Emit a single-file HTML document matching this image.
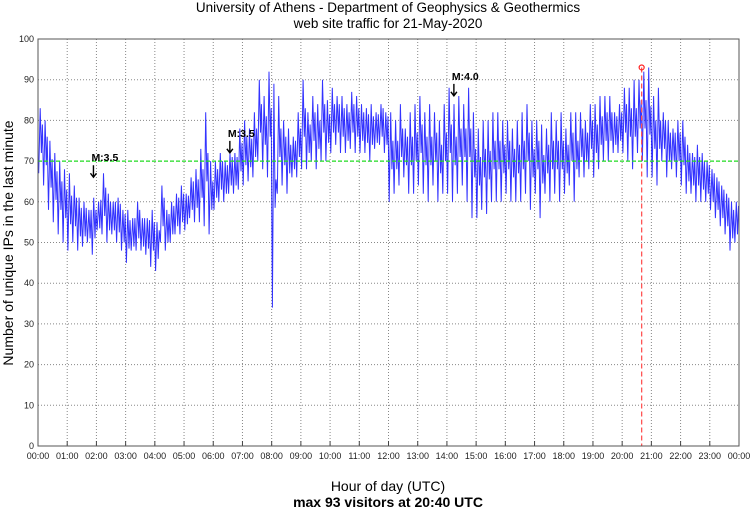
<!DOCTYPE html>
<html><head><meta charset="utf-8"><style>
body{margin:0;background:#fff;}
svg{display:block;font-family:"Liberation Sans",sans-serif;}
</style></head><body>
<svg id="chart" width="750" height="511" viewBox="0 0 750 511">
<text x="388" y="12" font-size="13.5" text-anchor="middle">University of Athens - Department of Geophysics &amp; Geothermics</text>
<text x="388" y="28" font-size="13.5" text-anchor="middle">web site traffic for 21-May-2020</text>
<text transform="translate(13,243) rotate(-90)" font-size="14" text-anchor="middle">Number of unique IPs in the last minute</text>
<text x="388" y="491" font-size="14" text-anchor="middle">Hour of day (UTC)</text>
<text x="388" y="507" font-size="14" font-weight="bold" text-anchor="middle">max 93 visitors at 20:40 UTC</text>
<g id="grid"></g><g id="series"></g><g id="overlay"></g><g id="axes"></g>
</svg>
<script>
const hiVals=[83,80,75,72,70,68, 67,64,61,60,58,61, 60,67,62,60,61,58, 58,56,60,56,56,58, 55,64,58,60,62,64, 62,66,68,73,82,70, 70,72,70,72,72,78, 80,78,82,90,86,92, 89,86,80,78,76,82, 90,82,86,84,90,85, 88,86,86,84,87,86, 84,83,84,82,84,82, 82,80,84,78,82,84, 86,82,84,82,80,84, 88,84,86,84,88,82, 78,80,80,82,82,80, 80,78,80,82,84,80, 80,79,78,82,80,82, 78,82,82,82,80,84, 84,86,86,86,82,84, 88,88,90,90,92,93, 86,88,82,80,78,80, 80,74,72,74,72,70, 68,66,64,62,60,60];
const loVals=[67,64,58,55,52,50, 48,50,48,49,50,47, 53,52,50,52,50,48, 45,48,48,48,47,44, 43,50,48,50,52,52, 53,56,55,55,54,52, 58,60,60,62,62,63, 64,65,66,70,68,66, 34,62,64,62,66,66, 68,68,70,68,70,70, 72,74,72,72,73,72, 72,72,70,73,74,72, 60,62,64,66,62,62, 64,62,60,64,60,62, 62,60,62,64,60,56, 56,58,57,60,60,60, 62,60,60,60,62,58, 62,56,62,60,62,60, 62,64,60,66,66,68, 66,68,70,70,72,72, 72,70,68,72,70,66, 66,64,70,66,68,66, 64,62,62,60,60,60, 58,56,54,52,48,50];
const yTicks=[0,10,20,30,40,50,60,70,80,90,100];
const xTickLabels=["00:00","01:00","02:00","03:00","04:00","05:00","06:00","07:00","08:00","09:00","10:00","11:00","12:00","13:00","14:00","15:00","16:00","17:00","18:00","19:00","20:00","21:00","22:00","23:00","00:00"];
const quakeHours=[1.83,6.5,14.17];
const quakeLabels=["M:3.5","M:3.5","M:4.0"];
const quakeValues=[68,74,88];
const maxHour=20.667, maxValue=93, refLine=70;

const X0=38,X1=739,Y0=446,Y1=39;
const xs=h=>X0+(X1-X0)*h/24;
const ys=v=>Y0-(Y0-Y1)*v/100;
const NS="http://www.w3.org/2000/svg";
function mk(tag,attrs,parent){const e=document.createElementNS(NS,tag);for(const k in attrs)e.setAttribute(k,attrs[k]);parent.appendChild(e);return e;}
const grid=document.getElementById('grid'),axes=document.getElementById('axes'),series=document.getElementById('series'),ov=document.getElementById('overlay');
yTicks.forEach(v=>{
 if(v>0&&v<100){const l=mk('line',{x1:X0,x2:X1,y1:ys(v),y2:ys(v),stroke:'#888','stroke-dasharray':'1,2','stroke-width':1},grid);
 
 }
 const t=mk('text',{x:X0-4,y:ys(v)+3,'font-size':9,'text-anchor':'end',fill:'#222'},axes);t.textContent=v;
 
 
});
xTickLabels.forEach((s,i)=>{
 const x=xs(i);
 if(i>0&&i<24){const l=mk('line',{x1:x,x2:x,y1:Y1,y2:Y0,stroke:'#888','stroke-dasharray':'1,2','stroke-width':1},grid);
 
 }
 mk('line',{x1:x,x2:x,y1:Y0,y2:Y0-5,stroke:'#444'},axes);
 const t=mk('text',{x:x,y:Y0+13,'font-size':9,'text-anchor':'middle',fill:'#222'},axes);t.textContent=s;
 
 
});
const frame=mk('rect',{x:X0,y:Y1,width:X1-X0,height:Y0-Y1,fill:'none',stroke:'#555'},axes);


let pts=[];const n=hiVals.length;
for(let i=0;i<n;i++){const h=24*i/n,step=24/n;
 pts.push(xs(h+step*0.15).toFixed(1)+','+ys(loVals[i]).toFixed(1));
 pts.push(xs(h+step*0.45).toFixed(1)+','+ys(hiVals[i]).toFixed(1));
 pts.push(xs(h+step*0.7).toFixed(1)+','+ys((loVals[i]+hiVals[i])/2-3).toFixed(1));
 pts.push(xs(h+step*0.9).toFixed(1)+','+ys((loVals[i]+hiVals[i])/2+4).toFixed(1));}
const pl=mk('polyline',{points:pts.join(' '),fill:'none',stroke:'#0000ff','stroke-width':1,'stroke-opacity':0.8},series);


const rl=mk('line',{x1:X0,x2:X1,y1:ys(refLine),y2:ys(refLine),stroke:'#22dd22','stroke-dasharray':'4,2','stroke-width':1.2},ov);


const ml=mk('line',{x1:xs(maxHour),x2:xs(maxHour),y1:ys(maxValue),y2:Y0,stroke:'#ff5555','stroke-dasharray':'5,3','stroke-width':1.3},ov);


const mc=mk('circle',{cx:xs(maxHour),cy:ys(maxValue),r:2.5,fill:'none',stroke:'#ff2222','stroke-width':1.2},ov);


quakeHours.forEach((h,i)=>{
 const x=xs(h),y=ys(quakeValues[i]);
 const t=mk('text',{x:x,y:y-8,'font-size':10.5,'font-weight':'bold'},ov);t.textContent=quakeLabels[i];
 
 
 const a=mk('path',{d:`M${x+2},${y-4} L${x+2},${y+7} M${x-1},${y+4} L${x+2},${y+8} L${x+5},${y+4}`,stroke:'#000','stroke-width':1.4,fill:'none'},ov);
 
 
});
</script>
</body></html>
